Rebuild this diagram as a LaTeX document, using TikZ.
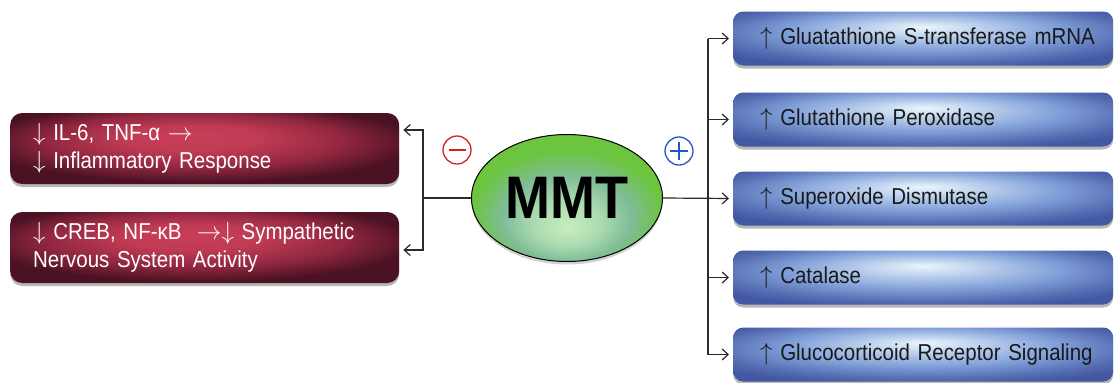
\documentclass[tikz,border=0pt]{standalone}
\usepackage{fontspec}
\setmainfont[FakeStretch=0.89]{Liberation Sans}
\newfontfamily\mmtfont[FakeStretch=0.9]{Liberation Sans}
\usetikzlibrary{shadows,arrows.meta,shapes.geometric}
\definecolor{rdark}{HTML}{4A1222}
\definecolor{rmid}{HTML}{922740}
\definecolor{rbright}{HTML}{C83E57}
\definecolor{bdark}{HTML}{4358A2}
\definecolor{bmid}{HTML}{809FD8}
\definecolor{bbright}{HTML}{EAF6FC}
\definecolor{gout}{HTML}{6CC53E}
\definecolor{gmid}{HTML}{7FBC96}
\definecolor{glight}{HTML}{C8EEC0}
\definecolor{conncol}{HTML}{2B2B2B}
\definecolor{signred}{HTML}{D02424}
\definecolor{signblue}{HTML}{2456C0}
\pgfdeclareradialshading{redglow}{\pgfpoint{-2bp}{9bp}}{color(0bp)=(rbright); color(9bp)=(rbright!85!rmid); color(19bp)=(rmid); color(28bp)=(rdark); color(50bp)=(rdark)}
\pgfdeclareradialshading{blueglow}{\pgfpoint{0bp}{11bp}}{color(0bp)=(bbright); color(8bp)=(bbright!55!bmid); color(18bp)=(bmid); color(27bp)=(bdark!70!bmid); color(32bp)=(bdark); color(50bp)=(bdark)}
\pgfdeclareradialshading{greenglow}{\pgfpoint{0bp}{-12bp}}{color(0bp)=(glight); color(9bp)=(glight!60!gmid); color(17bp)=(gmid); color(25bp)=(gout); color(50bp)=(gout)}
\tikzset{
  boxshadow/.style={drop shadow={shadow xshift=0bp, shadow yshift=-3bp, opacity=0.35, fill=black!80}},
  redbox/.style={shade, shading=redglow, rounded corners=12bp, minimum height=71bp,
    text width=343bp, inner xsep=23bp, align=left, text=white,
    font=\fontsize{23bp}{28bp}\selectfont, boxshadow},
  bluebox/.style={shade, shading=blueglow, rounded corners=10bp, minimum height=54bp,
    text width=326bp, inner xsep=27bp, align=left, text=black!90,
    font=\fontsize{23bp}{26bp}\selectfont, boxshadow},
  conn/.style={draw=conncol, line width=1.2bp},
  arr/.style={conn, -{Straight Barb[length=6bp,width=11bp]}, shorten >=4bp},
  sign/.style={circle, draw, line width=1.3bp, minimum size=28bp, inner sep=0pt}
}
\begin{document}
\begin{tikzpicture}[x=1bp,y=-1bp]
\useasboundingbox[fill=white] (0,0) rectangle (1115,382);
% left boxes
\node[redbox, anchor=west] (l1) at (10,148.5) {$\downarrow$ IL-6, TNF-α $\rightarrow$\\$\downarrow$ Inflammatory Response};
\node[redbox, anchor=west] (l2) at (10,247.5) {$\downarrow$ CREB, NF-κB \ $\rightarrow$$\downarrow$ Sympathetic\\Nervous System Activity};
% right boxes
\node[bluebox, anchor=west] (r1) at (733,38.5) {\mbox{$\uparrow$ Gluatathione S-transferase mRNA}};
\node[bluebox, anchor=west] (r2) at (733,119.5) {\mbox{$\uparrow$ Glutathione Peroxidase}};
\node[bluebox, anchor=west] (r3) at (733,198.5) {\mbox{$\uparrow$ Superoxide Dismutase}};
\node[bluebox, anchor=west] (r4) at (733,277.5) {\mbox{$\uparrow$ Catalase}};
\node[bluebox, anchor=west] (r5) at (733,354.5) {\mbox{$\uparrow$ Glucocorticoid Receptor Signaling}};
% centre
\node[ellipse, draw=black, line width=1bp, shade, shading=greenglow,
      minimum width=191bp, minimum height=127bp, inner sep=0pt,
      drop shadow={shadow xshift=0bp, shadow yshift=-3bp, opacity=0.25, fill=black!70},
      font=\mmtfont\bfseries\fontsize{60bp}{60bp}\selectfont] (mmt) at (567,198) {MMT};
% signs
\node[sign, draw=signred] (minus) at (457,150) {};
\draw[signred, line width=1.3bp] ([xshift=-8.5bp]minus.center) -- ([xshift=8.5bp]minus.center);
\node[sign, draw=signblue] (plus) at (679,151) {};
\draw[signblue, line width=1.3bp] ([xshift=-9bp]plus.center) -- ([xshift=9bp]plus.center);
\draw[signblue, line width=1.3bp] ([yshift=-9bp]plus.center) -- ([yshift=9bp]plus.center);
% left connectors
\coordinate (lj) at (423,198);
\draw[conn] (mmt.west) -- (lj);
\draw[arr] (lj) |- ([yshift=18.5bp]l1.east);
\draw[arr] (lj) |- ([yshift=-2.5bp]l2.east);
% right connectors
\coordinate (rj) at (708,198);
\draw[conn] (rj |- r1.west) -- (rj |- r5.west);
\draw[arr] (mmt.east) -- (r3.west);
\draw[arr] (rj |- r1.west) -- (r1.west);
\draw[arr] (rj |- r2.west) -- (r2.west);
\draw[arr] (rj |- r4.west) -- (r4.west);
\draw[arr] (rj |- r5.west) -- (r5.west);
\end{tikzpicture}
\end{document}
